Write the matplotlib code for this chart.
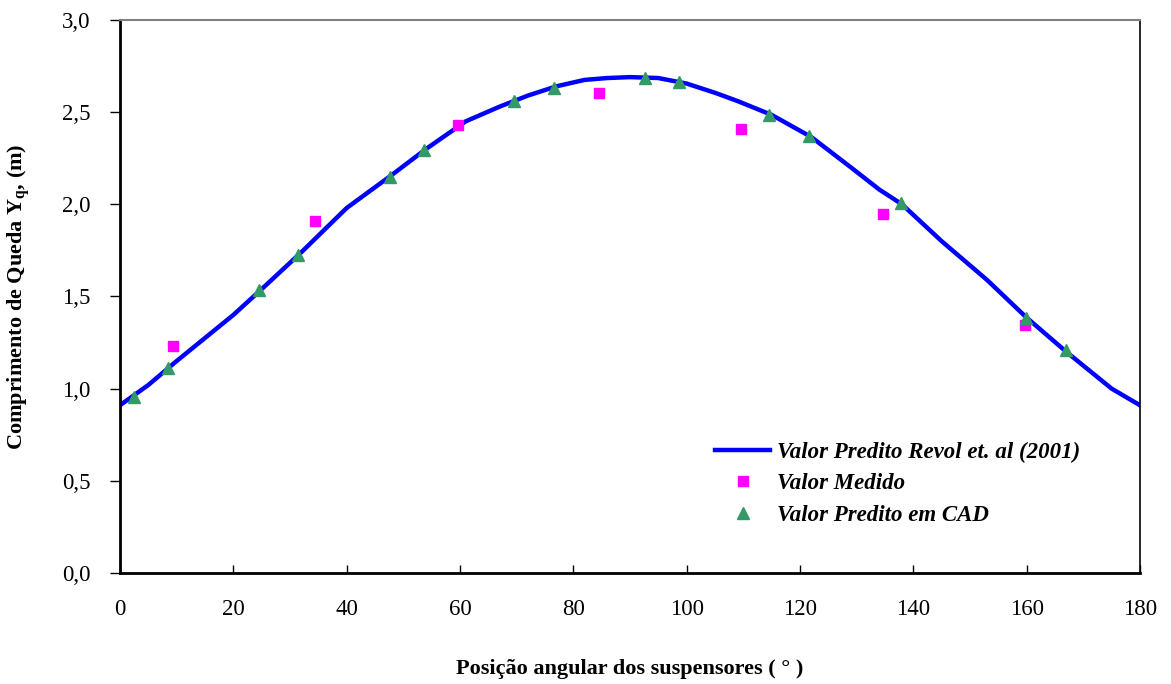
import numpy as np
import matplotlib.pyplot as plt

plt.rcParams['font.family'] = ['Liberation Serif', 'DejaVu Serif']
plt.rcParams['mathtext.fontset'] = 'custom'
plt.rcParams['mathtext.rm'] = 'Liberation Serif'
plt.rcParams['mathtext.bf'] = 'Liberation Serif:bold'

# curva prevista (Revol et al. 2001)
ang_curva = [0, 5, 10, 14, 20, 25, 32, 40, 48, 54, 61, 67, 72, 77, 82, 86, 90, 95,
             100, 105, 109, 115, 122, 129, 134, 138, 145, 153, 160, 167, 175, 180]
val_curva = [0.91, 1.02, 1.15, 1.25, 1.40, 1.54, 1.74, 1.98, 2.16, 2.30, 2.45, 2.53,
             2.59, 2.64, 2.675, 2.685, 2.69, 2.685, 2.655, 2.605, 2.56, 2.485, 2.365,
             2.20, 2.08, 2.00, 1.80, 1.59, 1.385, 1.20, 1.00, 0.91]

# valores medidos
ang_med = [9.3, 34.4, 59.6, 84.5, 109.6, 134.6, 159.7]
val_med = [1.23, 1.91, 2.43, 2.605, 2.41, 1.95, 1.346]

# valores previstos em CAD
ang_cad = [2.5, 8.5, 24.5, 31.4, 47.6, 53.6, 69.5, 76.6, 92.6, 98.6, 114.5, 121.6,
           137.8, 159.9, 167.0]
val_cad = [0.957, 1.11, 1.535, 1.725, 2.15, 2.295, 2.56, 2.63, 2.685, 2.664, 2.485,
           2.37, 2.007, 1.384, 1.21]

xticks = [0, 20, 40, 60, 80, 100, 120, 140, 160, 180]
yticks = [0.0, 0.5, 1.0, 1.5, 2.0, 2.5, 3.0]
ylabels = ['0,0', '0,5', '1,0', '1,5', '2,0', '2,5', '3,0']

fig = plt.figure(figsize=(11.71, 6.84), dpi=100)
ax = fig.add_axes([0.1025, 0.1623, 0.871, 0.8085])

ax.plot(ang_curva, val_curva, color='#0000ff', lw=3.2, zorder=2,
        label='Valor Predito Revol et. al (2001)')
ax.plot(ang_med, val_med, ls='none', marker='s', ms=6.5, color='#ff00ff', zorder=3,
        label='Valor Medido')
ax.plot(ang_cad, val_cad, ls='none', marker='^', ms=8, color='#339966', zorder=4,
        label='Valor Predito em CAD')

ax.set_xlim(0, 180)
ax.set_ylim(0, 3.0)
ax.set_xticks(xticks)
ax.set_yticks(yticks)
ax.set_yticklabels(ylabels)

ax.tick_params(axis='x', direction='in', length=6, width=1, pad=19, labelsize=16.5)
ax.tick_params(axis='y', direction='out', length=7, width=1, pad=14, labelsize=16.5)

ax.spines['left'].set_linewidth(2)
ax.spines['bottom'].set_linewidth(2)
ax.spines['right'].set_linewidth(1.2)
ax.spines['top'].set_linewidth(1.5)
ax.spines['top'].set_color('#808080')

ax.set_xlabel('Posição angular dos suspensores ( ° )', fontsize=16, fontweight='bold',
              labelpad=28)
ax.set_ylabel(r'Comprimento de Queda $\mathbf{Y_q}$, (m)', fontsize=16,
              fontweight='bold', labelpad=22)

leg = ax.legend(loc='lower right', bbox_to_anchor=(0.962, 0.048), frameon=False,
                prop={'family': 'Liberation Serif', 'weight': 'bold', 'style': 'italic',
                      'size': 16.5},
                handlelength=2.4, handletextpad=0.3, labelspacing=0.45)

fig.savefig('out.png', dpi=100)
